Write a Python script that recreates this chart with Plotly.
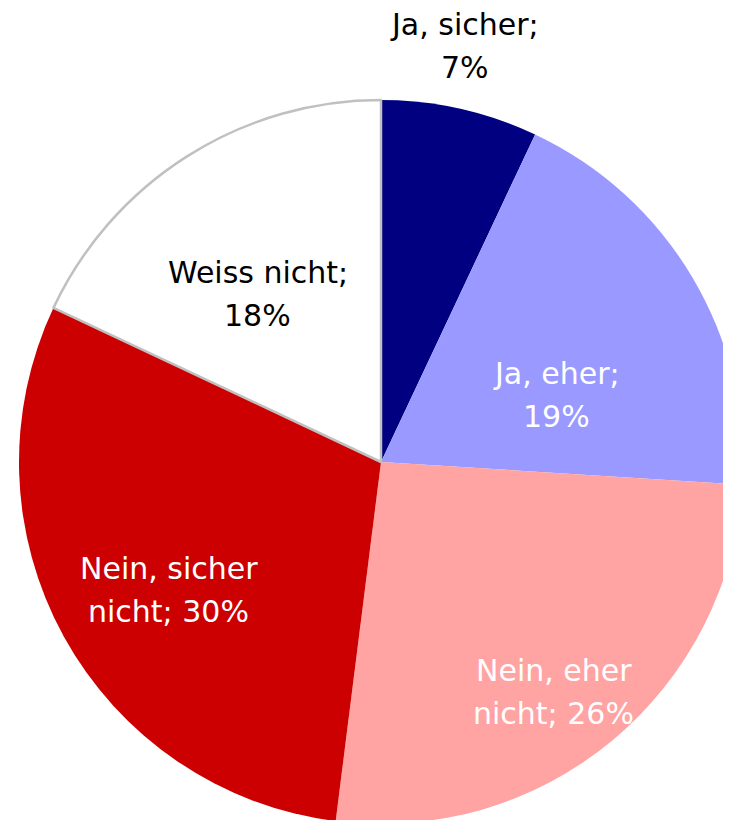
import math
import plotly.graph_objects as go

# ---- data ----
labels = ["Ja, sicher", "Ja, eher", "Nein, eher nicht", "Nein, sicher nicht", "Weiss nicht"]
values = [7, 19, 26, 30, 18]
colors = ["#000080", "#9999FF", "#FFA3A3", "#CC0000", "#FFFFFF"]
text_colors = ["#000000", "#FFFFFF", "#FFFFFF", "#FFFFFF", "#000000"]
line_colors = ["#000080", "#9999FF", "#FFA3A3", "#CC0000", "#C0C0C0"]
line_widths = [0, 0, 0, 0, 2.5]

# label placement style (radius fraction, angle tweak in degrees)
label_rfrac = [1.172, 0.518, 0.795, 0.684, 0.576]
label_dang = [-1.2, 9.6, 2.7, -2.3, -3.9]

# ---- layout constants (figure pixel coordinates) ----
W, H = 750, 830
CX, CY, R = 373, 454, 362
FONT = "DejaVu Sans"
FS = 30
LINE_GAP = 43

fig = go.Figure(go.Pie(
    labels=labels,
    values=values,
    sort=False,
    direction="clockwise",
    rotation=0,
    marker=dict(colors=colors, line=dict(color=line_colors, width=line_widths)),
    textinfo="none",
    hoverinfo="label+percent",
    showlegend=False,
    domain=dict(x=[(CX - R) / W, (CX + R) / W],
                y=[(H - CY - R) / H, (H - CY + R) / H]),
))

total = sum(values)
cum = 0
annotations = []
for i, (lab, v) in enumerate(zip(labels, values)):
    mid = (cum + v / 2) / total * 360 + label_dang[i]
    cum += v
    r = label_rfrac[i] * R
    px = CX + r * math.sin(math.radians(mid))
    py = CY - r * math.cos(math.radians(mid))
    pct = f"{round(v / total * 100)}%"
    words = lab.split()
    if len(words) > 2:
        l1 = " ".join(words[:2])
        l2 = " ".join(words[2:]) + "; " + pct
    else:
        l1 = lab + ";"
        l2 = pct
    for k, txt in enumerate([l1, l2]):
        yy = py + (k - 0.5) * LINE_GAP
        annotations.append(dict(
            x=px / W, y=1 - yy / H, xref="paper", yref="paper",
            text=txt, showarrow=False, xanchor="center", yanchor="middle",
            font=dict(family=FONT, size=FS, color=text_colors[i]),
        ))

fig.update_layout(
    width=W, height=H,
    margin=dict(l=0, r=0, t=0, b=0),
    paper_bgcolor="white",
    plot_bgcolor="white",
    annotations=annotations,
)

fig.write_html("out.html")
